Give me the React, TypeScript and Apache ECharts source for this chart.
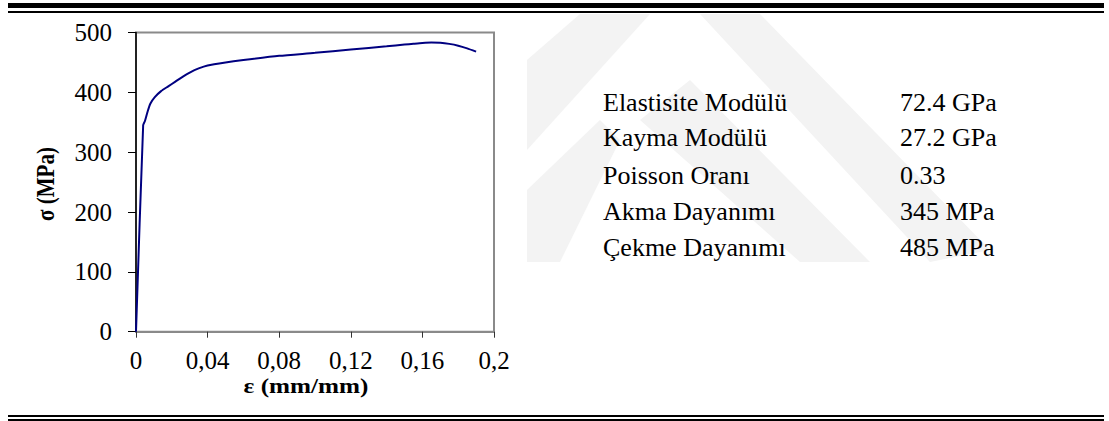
import React, { useEffect, useRef } from "react";
import * as echarts from "echarts";

// Stress-strain curve
const strain = [0, 0.004, 0.005, 0.0065, 0.008, 0.0105, 0.014, 0.018, 0.022, 0.026, 0.03, 0.035, 0.04, 0.05, 0.06, 0.08, 0.1, 0.12, 0.14, 0.15, 0.155, 0.16, 0.165, 0.17, 0.175, 0.18, 0.185, 0.19];
const stress = [0, 345, 352, 368, 381, 392, 402, 410, 418, 426, 433, 440, 445, 450, 454, 461, 466, 471.5, 477, 479.8, 481.2, 482.5, 483.2, 482.8, 481, 478, 473.5, 468];

const xTickLabels = ["0", "0,04", "0,08", "0,12", "0,16", "0,2"];
const yTickLabels = ["0", "100", "200", "300", "400", "500"];

const xTitle = "ε (mm/mm)";
const yTitle = "σ (MPa)";

const propNames = ["Elastisite Modülü", "Kayma Modülü", "Poisson Oranı", "Akma Dayanımı", "Çekme Dayanımı"];
const propValues = ["72.4 GPa", "27.2 GPa", "0.33", "345 MPa", "485 MPa"];

const FONT = "'Liberation Serif', 'Times New Roman', serif";
const TITLE_STRETCH = 1.2; // the chart titles look horizontally stretched in the reference

export default function App() {
  const ref = useRef<HTMLDivElement>(null);

  useEffect(() => {
    if (!ref.current) return;
    const chart = echarts.init(ref.current, null, { renderer: "svg" });

    const rowY = [102, 137, 175.5, 211, 247];

    const graphics: any[] = [];
    // watermark (faint chevrons)
    const wm = (pts: number[][]) => ({
      type: "polygon",
      z: -10,
      silent: true,
      shape: { points: pts },
      style: { fill: "#f3f3f3" },
    });
    graphics.push(wm([[527, 60], [580, 14], [650, 14], [527, 150]]));
    graphics.push(wm([[700, 14], [760, 14], [990, 250], [930, 262]]));
    graphics.push(wm([[640, 120], [690, 80], [870, 262], [800, 262]]));
    graphics.push(wm([[527, 190], [600, 120], [620, 140], [560, 262], [527, 262]]));

    // rules
    const rule = (y: number, h: number) => ({
      type: "rect",
      z: 10,
      shape: { x: 8, y, width: 1104 - 8, height: h },
      style: { fill: "#000" },
    });
    graphics.push(rule(3, 5), rule(11, 2), rule(415, 2), rule(419, 5));

    // axis titles
    graphics.push({
      type: "text",
      x: 306,
      y: 386,
      scaleX: TITLE_STRETCH,
      style: { text: xTitle, fontSize: 21, fontWeight: "bold", fontFamily: FONT, fill: "#000", align: "center", verticalAlign: "middle" },
    });
    graphics.push({
      type: "text",
      x: 45,
      y: 184,
      rotation: Math.PI / 2,
      scaleY: TITLE_STRETCH,
      style: { text: yTitle, fontSize: 21, fontWeight: "bold", fontFamily: FONT, fill: "#000", align: "center", verticalAlign: "middle" },
    });

    // property table
    propNames.forEach((n, i) => {
      graphics.push({
        type: "text",
        x: 603,
        y: rowY[i],
        style: { text: n, fontSize: 26, fontFamily: FONT, fill: "#000", align: "left", verticalAlign: "middle" },
      });
      graphics.push({
        type: "text",
        x: 900,
        y: rowY[i],
        style: { text: propValues[i], fontSize: 26, fontFamily: FONT, fill: "#000", align: "left", verticalAlign: "middle" },
      });
    });

    const option: any = {
      animation: false,
      backgroundColor: "transparent",
      grid: {
        left: 136,
        top: 32.5,
        width: 494 - 136,
        height: 331.7 - 32.5,
        show: true,
        borderColor: "#8a8a8a",
        borderWidth: 2,
        backgroundColor: "#fff",
        containLabel: false,
      },
      xAxis: {
        type: "value",
        min: 0,
        max: 0.2,
        interval: 0.04,
        splitLine: { show: false },
        axisLine: { show: true, onZero: false, lineStyle: { color: "#8a8a8a", width: 2 } },
        axisTick: { show: true, length: 6, lineStyle: { color: "#333", width: 1 } },
        axisLabel: {
          fontSize: 25,
          fontFamily: FONT,
          color: "#000",
          margin: 16,
          formatter: (v: number) => xTickLabels[Math.round(v / 0.04)] ?? "",
        },
      },
      yAxis: {
        type: "value",
        min: 0,
        max: 500,
        interval: 100,
        splitLine: { show: false },
        axisLine: { show: true, onZero: false, lineStyle: { color: "#000", width: 1.5 } },
        axisTick: { show: true, length: 8, lineStyle: { color: "#000", width: 1 } },
        axisLabel: {
          fontSize: 25,
          fontFamily: FONT,
          color: "#000",
          margin: 24,
          formatter: (v: number) => yTickLabels[Math.round(v / 100)] ?? "",
        },
      },
      series: [
        {
          type: "line",
          data: strain.map((x, i) => [x, stress[i]]),
          showSymbol: false,
          symbol: "none",
          smooth: 0.2,
          lineStyle: { color: "#000080", width: 2 },
          z: 5,
        },
      ],
      graphic: graphics,
    };

    chart.setOption(option);
    return () => chart.dispose();
  }, []);

  return (
    <div style={{ position: "fixed", left: 0, top: 0, width: 1109, height: 421, background: "#fff", overflow: "hidden" }}>
      <div ref={ref} style={{ width: 1109, height: 421 }} />
    </div>
  );
}
